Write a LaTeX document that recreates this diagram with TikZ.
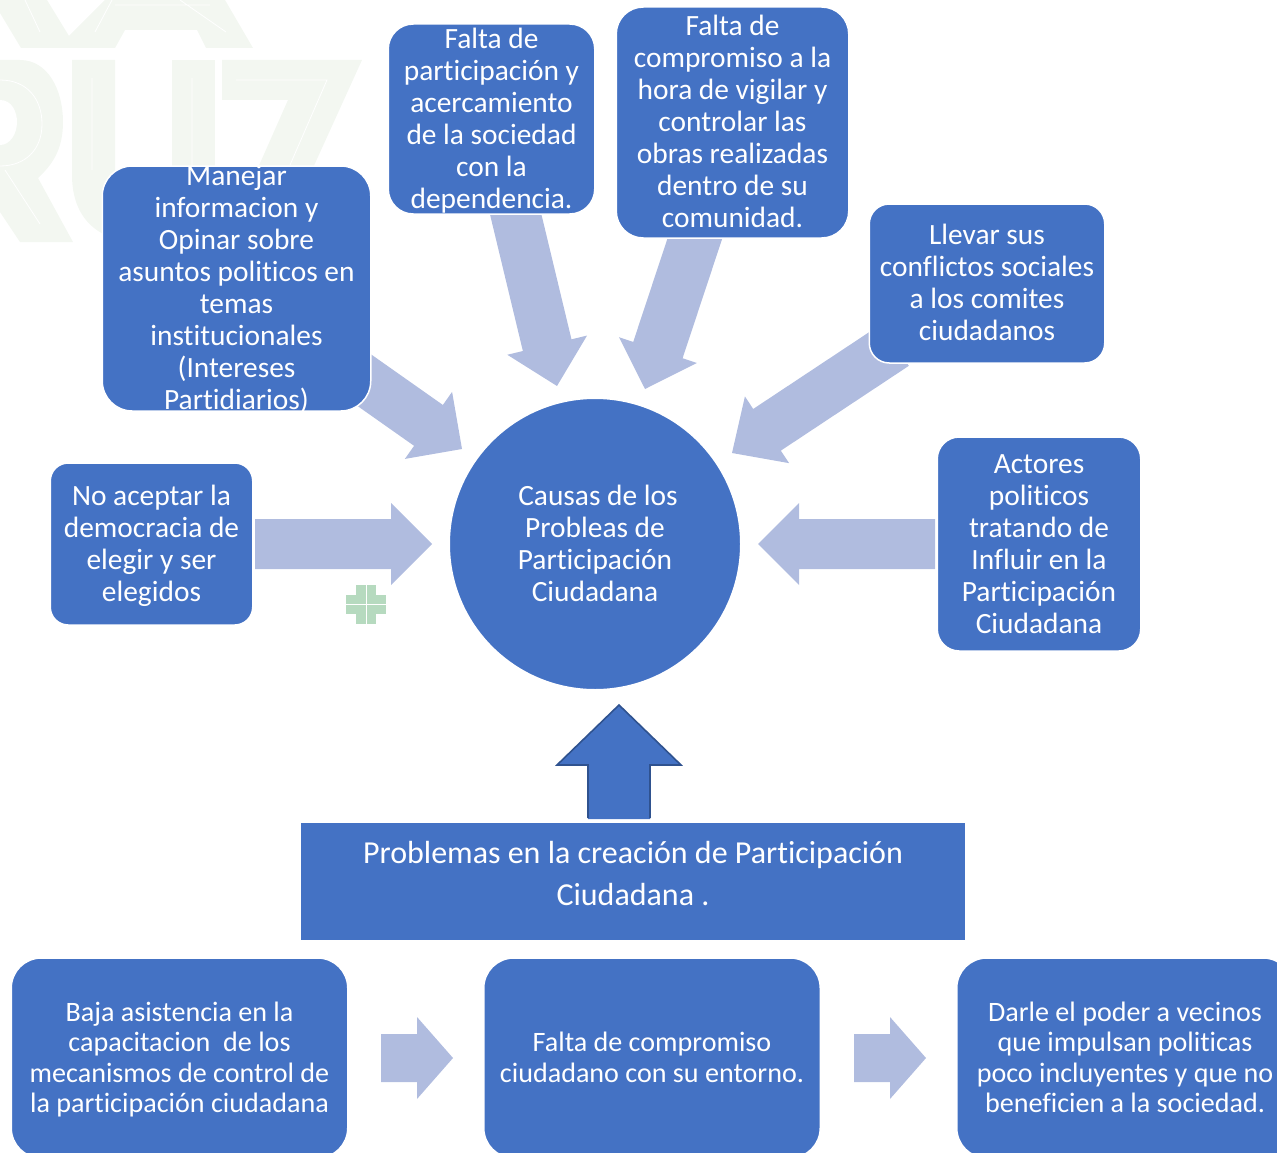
\documentclass[tikz,border=0pt]{standalone}
\usepackage{fontspec}
\setmainfont{Carlito}[Ligatures=CommonOff]
\usetikzlibrary{calc}
\definecolor{bluefill}{HTML}{4472C4}
\definecolor{blueedge}{HTML}{2F528F}
\definecolor{paleblue}{HTML}{B0BCDF}
\definecolor{wm}{HTML}{F3F7F1}
\definecolor{crossgreen}{HTML}{B6DABF}
\newcommand{\lines}[1]{\raisebox{-9pt}[0pt][0pt]{\begin{tabular}[c]{@{}c@{}}#1\end{tabular}}}
\newcommand{\blockarrow}[6][paleblue]{%
  \coordinate (h) at ($(#3)!#6pt!(#2)$);
  \coordinate (dirA) at ($(#2)!#4pt!90:(#3)$);
  \coordinate (dirB) at ($(#2)!#4pt!-90:(#3)$);
  \fill[#1] (dirA) -- ($(h)!#4pt!90:(#3)$) -- ($(h)!#5pt!90:(#3)$)
    -- (#3) -- ($(h)!#5pt!-90:(#3)$) -- ($(h)!#4pt!-90:(#3)$) -- (dirB) -- cycle;
}
\tikzset{
  x=1pt,y=-1pt,
  box/.style={draw=white,line width=1.5pt,fill=bluefill,text=white,align=center,inner sep=0pt,outer sep=0pt,
    font=\fontsize{29.4}{32}\selectfont},
  small/.style={font=\fontsize{28.1}{30.5}\selectfont},
}
\begin{document}
\begin{tikzpicture}
\useasboundingbox (0,0) rectangle (1277,1153);
\clip (0,0) rectangle (1277,1153);
% watermark
\fill[wm] (0,13) -- (21,48) -- (115,48) -- (125,30) -- (197,30) -- (206,48) -- (253,48) -- (225,0) -- (105,0) -- (69,36) -- (47,0) -- (0,0) -- cycle;
\fill[wm] (0,60) -- (20,60) .. controls (48,60) and (63,90) .. (63,122) .. controls (63,150) and (52,165) .. (38,178) -- (73,242) -- (20,242) -- (0,212) -- cycle;
\fill[white] (0,100) .. controls (12,100) and (17,112) .. (17,122) .. controls (17,134) and (10,145) .. (0,145) -- cycle;
\fill[wm] (72,60) -- (115,60) -- (115,170) .. controls (115,190) and (125,200) .. (140,200) -- (140,242) .. controls (100,242) and (72,220) .. (72,175) -- cycle;
\fill[wm] (172,60) -- (215,60) -- (215,170) -- (172,170) -- cycle;
\fill[wm] (222,60) -- (362,60) -- (312,170) -- (257,170) -- (288,100) -- (222,100) -- cycle;
\draw[white,line width=.8pt] (92,78) -- (92,170) (192,78) -- (192,170) (236,80) -- (327,80) -- (290,165) (0,80) .. controls (28,80) and (42,100) .. (42,124) .. controls (42,150) and (25,166) .. (0,166) (5,170) -- (40,224) (25,0) -- (40,32) (95,32) -- (112,0) (180,0) -- (226,32) (115,5) -- (210,5);
% green cross
\fill[crossgreen] (356,585) rectangle (376,624);
\fill[crossgreen] (346,595) rectangle (386,614);
\draw[white,line width=.7pt] (366,585) -- (366,624) (346,604.5) -- (386,604.5);
% arrow end coordinates
\coordinate (t1) at (255,544); \coordinate (h1) at (432,544);
\coordinate (t2) at (935,544); \coordinate (h2) at (758,544);
\coordinate (t3) at (347,368); \coordinate (h3) at (462,449);
\coordinate (t4) at (512,199); \coordinate (h4) at (557,386);
\coordinate (t5) at (702,217); \coordinate (h5) at (645,389);
\coordinate (t6) at (895,345); \coordinate (h6) at (732,453);
\coordinate (t7) at (381,1058); \coordinate (h7) at (453,1058);
\coordinate (t8) at (854,1058); \coordinate (h8) at (926,1058);
\blockarrow{t1}{h1}{25}{41}{41}
\blockarrow{t2}{h2}{25}{41}{41}
\blockarrow{t3}{h3}{25}{41}{41}
\blockarrow{t4}{h4}{25}{41}{42}
\blockarrow{t5}{h5}{26}{41}{41}
\blockarrow{t6}{h6}{25}{40}{42}
\blockarrow{t7}{h7}{24}{41}{36}
\blockarrow{t8}{h8}{24}{41}{36}
% boxes
\node[box,rounded corners=30pt,minimum width=268.5pt,minimum height=245pt] (manejar) at (236.5,288.5) {\lines{Manejar\\informacion y\\Opinar sobre\\asuntos politicos en\\temas\\institucionales\\(Intereses\\Partidiarios)}};
\node[box,rounded corners=25pt,minimum width=206.5pt,minimum height=190pt] (acerca) at (491.5,119) {\lines{Falta de\\participación y\\acercamiento\\de la sociedad\\con la\\dependencia.}};
\node[box,rounded corners=27pt,minimum width=232.5pt,minimum height=231pt] (vigilar) at (732.5,122.5) {\lines{Falta de\\compromiso a la\\hora de vigilar y\\controlar las\\obras realizadas\\dentro de su\\comunidad.}};
\node[box,rounded corners=20pt,minimum width=235.5pt,minimum height=159pt] (comites) at (987,283.5) {\lines{Llevar sus\\conflictos sociales\\a los comites\\ciudadanos}};
\node[box,rounded corners=22pt,minimum width=203.5pt,minimum height=214pt] (actores) at (1039,544) {\lines{Actores\\politicos\\tratando de\\Influir en la\\Participación\\Ciudadana}};
\node[box,rounded corners=18pt,minimum width=202.5pt,minimum height=162pt] (demo) at (151.5,544) {\lines{No aceptar la\\democracia de\\elegir y ser\\elegidos}};
\node[circle,box,minimum size=291.5pt] (causas) at (595,544) {\lines{\hspace*{6pt}Causas de los\\Probleas de\\Participación\\Ciudadana}};
% up arrow
\coordinate (a1) at (619,705);
\fill[bluefill] (588,819) -- (588,765) -- (557,765) -- (a1) -- (681,765) -- (650,765) -- (650,819) -- cycle;
\draw[blueedge,line width=1.6pt,line join=miter] (588,818) -- (588,765) -- (557,765) -- (a1) -- (681,765) -- (650,765) -- (650,818);
% main rect
\node[box,minimum width=665.5pt,minimum height=119pt,font=\fontsize{32}{42}\selectfont] (prob) at (633,881.5) {\raisebox{-1pt}[0pt][0pt]{\begin{tabular}[c]{@{}c@{}}Problemas en la creación de Participación\\Ciudadana .\end{tabular}}};
% bottom
\node[box,small,rounded corners=30pt,minimum width=336.5pt,minimum height=200pt] (baja) at (179.5,1058) {\lines{Baja asistencia en la\\capacitacion\ \ de los\\mecanismos de control de\\la participación ciudadana}};
\node[box,small,rounded corners=30pt,minimum width=336.5pt,minimum height=200pt] (falta) at (652,1058) {\lines{Falta de compromiso\\ciudadano con su entorno.}};
\node[box,small,rounded corners=30pt,minimum width=336.5pt,minimum height=200pt] (darle) at (1125,1058) {\lines{Darle el poder a vecinos\\que impulsan politicas\\poco incluyentes y que no\\beneficien a la sociedad.}};
\end{tikzpicture}
\end{document}
